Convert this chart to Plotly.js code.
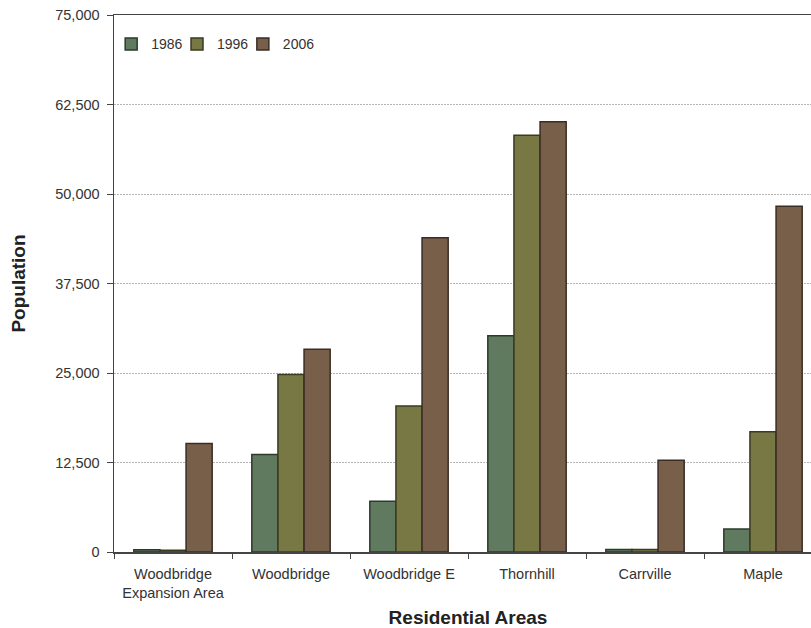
<!DOCTYPE html>
<html>
<head>
<meta charset="utf-8">
<script src="https://cdn.plot.ly/plotly-3.0.1.min.js"></script>
<style>
html, body { margin: 0; padding: 0; overflow: hidden; background: #fff; }
#chart { width: 822px; height: 628px; }
</style>
</head>
<body>
<div id="chart"></div>
<script>
const categories = ["Woodbridge<br>Expansion Area", "Woodbridge", "Woodbridge E", "Thornhill", "Carrville", "Maple"];
const seriesNames = ["1986", "1996", "2006"];
const values1986 = [300, 13600, 7100, 30200, 350, 3200];
const values1996 = [250, 24800, 20400, 58200, 350, 16800];
const values2006 = [15150, 28300, 43900, 60100, 12800, 48300];
const yTicks = [0, 12500, 25000, 37500, 50000, 62500, 75000];

const fills = ["#5f7a5f", "#777844", "#785f4a"];
const outlines = ["#2c3a2c", "#3b3b20", "#3a2d24"];
const allValues = [values1986, values1996, values2006];
const legendIds = ["legend", "legend2", "legend3"];
const legendX = [-0.004, 0.089, 0.182];

const traces = seriesNames.map((name, i) => ({
  type: "bar",
  name: name,
  x: categories,
  y: allValues[i],
  legend: legendIds[i],
  marker: { color: fills[i], line: { color: outlines[i], width: 1.5 } },
  hoverinfo: "x+y+name"
}));

function legendSpec(x) {
  return {
    orientation: "h",
    x: x,
    y: 0.975,
    xanchor: "left",
    yanchor: "top",
    bgcolor: "rgba(0,0,0,0)",
    font: { size: 14, color: "#333333" },
    itemwidth: 30
  };
}

const layout = {
  width: 822,
  height: 628,
  margin: { l: 114, r: 0, t: 15, b: 76 },
  paper_bgcolor: "#ffffff",
  plot_bgcolor: "#ffffff",
  font: { family: "Liberation Sans, Arial, sans-serif", size: 14.5, color: "#333333" },
  barmode: "group",
  bargap: 0.336,
  bargroupgap: 0,
  showlegend: true,
  legend: legendSpec(legendX[0]),
  legend2: legendSpec(legendX[1]),
  legend3: legendSpec(legendX[2]),
  xaxis: {
    type: "category",
    tickson: "boundaries",
    ticks: "outside",
    ticklen: 5,
    tickcolor: "#444444",
    showline: true,
    linecolor: "#444444",
    linewidth: 1.5,
    mirror: true,
    showgrid: false,
    ticklabelstandoff: 8,
    title: { text: "Residential Areas", font: { size: 19, color: "#222222", weight: "bold" }, standoff: 16 },
    automargin: false
  },
  yaxis: {
    range: [0, 75000],
    tickvals: yTicks,
    tickformat: ",",
    ticks: "outside",
    ticklen: 6,
    tickcolor: "#444444",
    showline: true,
    linecolor: "#444444",
    linewidth: 1.5,
    showgrid: true,
    gridcolor: "#b4b4b4",
    griddash: "2px,1px",
    gridwidth: 1,
    zeroline: false,
    ticklabelstandoff: 4,
    title: { text: "Population", font: { size: 19, color: "#222222", weight: "bold" }, standoff: 24 },
    automargin: false
  }
};

Plotly.newPlot("chart", traces, layout, { displayModeBar: false, staticPlot: true });
</script>
</body>
</html>
